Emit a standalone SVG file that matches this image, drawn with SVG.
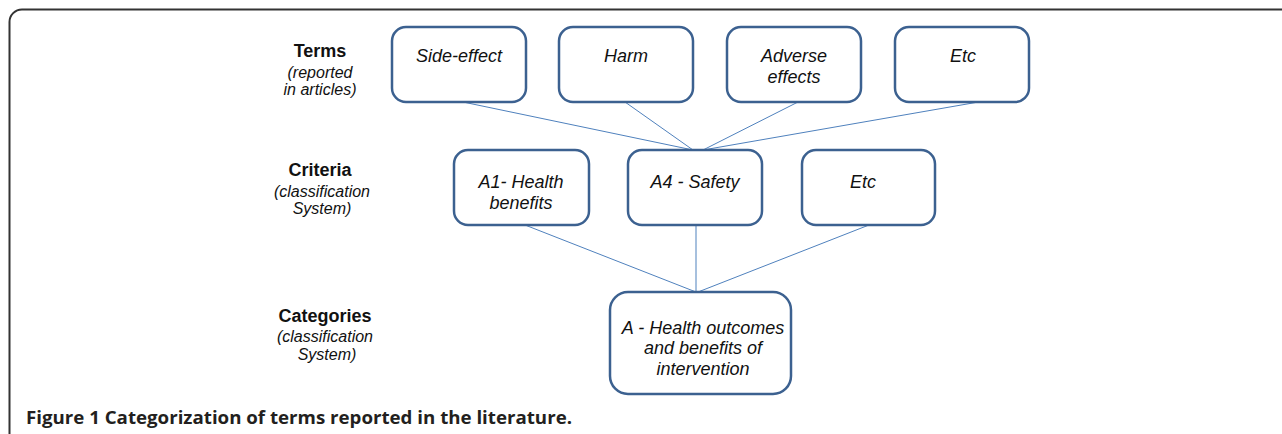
<svg xmlns="http://www.w3.org/2000/svg" width="1282" height="434" viewBox="0 0 1282 434">
<style>
.box{fill:#fff;stroke:#3c6190;stroke-width:2.5}
.bt{font-family:"Liberation Sans",Arial,sans-serif;font-style:italic;font-size:18px;fill:#111;text-anchor:middle}
.lh{font-family:"Liberation Sans",Arial,sans-serif;font-weight:bold;font-size:18px;fill:#111;text-anchor:middle}
.ls{font-family:"Liberation Sans",Arial,sans-serif;font-style:italic;font-size:16px;fill:#111;text-anchor:middle}
.cap{font-family:"Open Sans","Liberation Sans",sans-serif;font-weight:bold;font-size:17px;fill:#231f20}
#connectors line{stroke:#4f81bd;stroke-width:1}
</style>
<rect width="1282" height="434" fill="#fff"/>
<path d="M9.5,434 V22 A12.5,12.5 0 0 1 22,9.5 H1282" fill="none" stroke="#333" stroke-width="2"/>
<g id="labels">
<text class="lh" x="320" y="57">Terms</text>
<text class="ls" x="320" y="78">(reported</text>
<text class="ls" x="320" y="95">in articles)</text>
<text class="lh" x="320" y="176">Criteria</text>
<text class="ls" x="322" y="197">(classification</text>
<text class="ls" x="322" y="214">System)</text>
<text class="lh" x="325" y="322">Categories</text>
<text class="ls" x="325" y="342">(classification</text>
<text class="ls" x="327" y="360">System)</text>
</g>
<g id="connectors">
<line x1="463" y1="102" x2="693" y2="150"/>
<line x1="625" y1="102" x2="693" y2="150"/>
<line x1="798" y1="102" x2="703" y2="150"/>
<line x1="990" y1="100" x2="703" y2="150"/>
<line x1="525" y1="225" x2="696" y2="292"/>
<line x1="696" y1="225" x2="696" y2="292"/>
<line x1="869" y1="225" x2="698" y2="292"/>
</g>
<g id="n-side-effect"><rect class="box" x="392" y="27" width="134" height="75" rx="14"/><text class="bt" x="459" y="62">Side-effect</text></g>
<g id="n-harm"><rect class="box" x="559" y="27" width="134" height="75" rx="14"/><text class="bt" x="626" y="62">Harm</text></g>
<g id="n-adverse"><rect class="box" x="727" y="27" width="134" height="75" rx="14"/><text class="bt" x="794" y="62">Adverse</text><text class="bt" x="794" y="83">effects</text></g>
<g id="n-etc1"><rect class="box" x="895" y="27" width="134" height="75" rx="14"/><text class="bt" x="963" y="62">Etc</text></g>
<g id="n-a1"><rect class="box" x="454" y="150" width="135" height="75" rx="14"/><text class="bt" x="521" y="188">A1- Health</text><text class="bt" x="521" y="209">benefits</text></g>
<g id="n-a4"><rect class="box" x="628" y="150" width="134" height="75" rx="14"/><text class="bt" x="695" y="188">A4 - Safety</text></g>
<g id="n-etc2"><rect class="box" x="802" y="150" width="133" height="75" rx="14"/><text class="bt" x="863" y="188">Etc</text></g>
<g id="n-a"><rect class="box" x="610" y="292" width="181" height="102" rx="18"/><text class="bt" x="703" y="334">A - Health outcomes</text><text class="bt" x="703" y="354">and benefits of</text><text class="bt" x="703" y="375">intervention</text></g>
<text class="cap" x="26" y="424" textLength="546" lengthAdjust="spacingAndGlyphs">Figure 1 Categorization of terms reported in the literature.</text>
</svg>
